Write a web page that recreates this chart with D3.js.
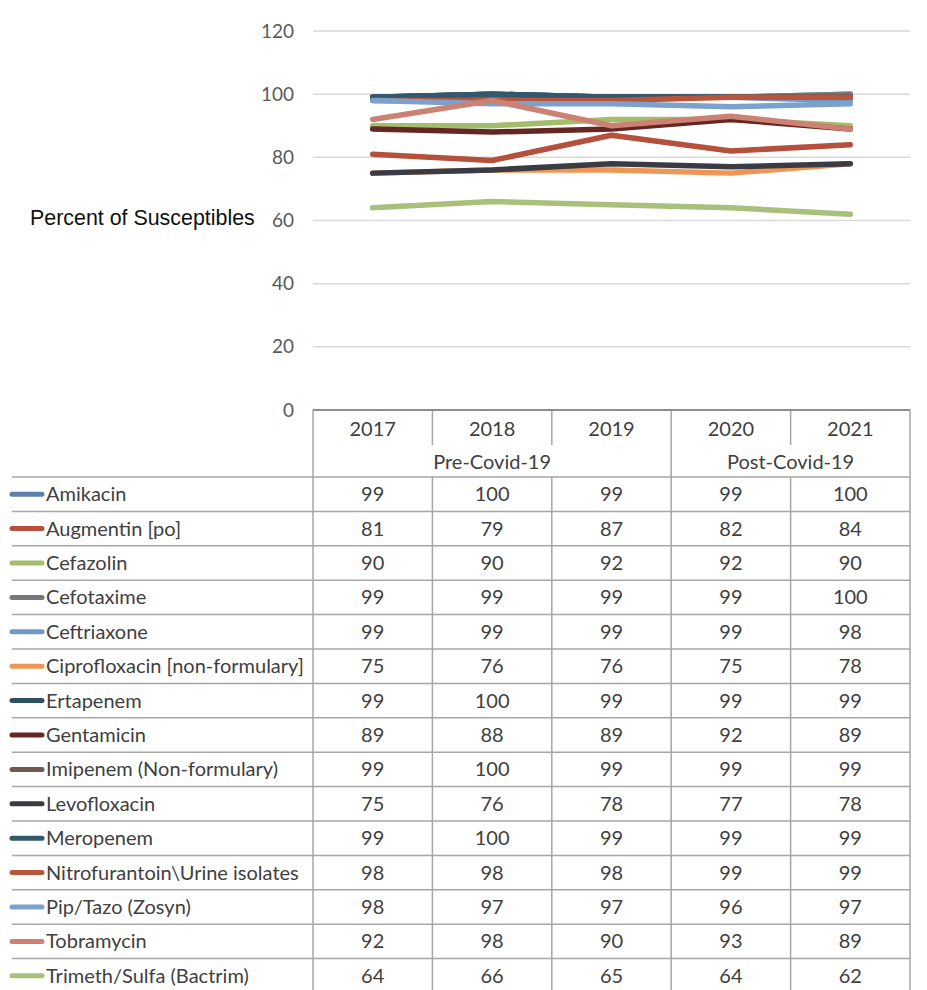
<!DOCTYPE html>
<html><head><meta charset="utf-8">
<script src="https://cdn.jsdelivr.net/npm/d3@7"></script>
<style>body{margin:0;background:#fff}svg{display:block}</style>
</head><body>
<svg id="c" width="927" height="990"></svg>
<script>
const years = ["2017","2018","2019","2020","2021"];
const groups = [{label:"Pre-Covid-19", from:0, to:2},{label:"Post-Covid-19", from:3, to:4}];
const yTicks = [0,20,40,60,80,100,120];
const drugs = ["Amikacin","Augmentin [po]","Cefazolin","Cefotaxime","Ceftriaxone","Ciprofloxacin [non-formulary]","Ertapenem","Gentamicin","Imipenem (Non-formulary)","Levofloxacin","Meropenem","Nitrofurantoin\\Urine isolates","Pip/Tazo (Zosyn)","Tobramycin","Trimeth/Sulfa (Bactrim)"];
const colors = ["#5b80ab","#b5503c","#a3bd6c","#777777","#7199c7","#ee9655","#2e4f62","#652724","#6e5a50","#3b3b43","#31586f","#b9553b","#7ba1cc","#cc8173","#a9c07c"];
const amikacin = [99,100,99,99,100];
const augmentin = [81,79,87,82,84];
const cefazolin = [90,90,92,92,90];
const cefotaxime = [99,99,99,99,100];
const ceftriaxone = [99,99,99,99,98];
const ciprofloxacin = [75,76,76,75,78];
const ertapenem = [99,100,99,99,99];
const gentamicin = [89,88,89,92,89];
const imipenem = [99,100,99,99,99];
const levofloxacin = [75,76,78,77,78];
const meropenem = [99,100,99,99,99];
const nitrofurantoin = [98,98,98,99,99];
const piptazo = [98,97,97,96,97];
const tobramycin = [92,98,90,93,89];
const trimeth = [64,66,65,64,62];
const values = [amikacin,augmentin,cefazolin,cefotaxime,ceftriaxone,ciprofloxacin,ertapenem,gentamicin,imipenem,levofloxacin,meropenem,nitrofurantoin,piptazo,tobramycin,trimeth];

(function(){
const svg = d3.select("#c");
const pLeft = 313, pRight = 910, pTop = 31, pBottom = 410;
const tableLeft = 12;
const x = d3.scaleBand().domain(years).range([pLeft,pRight]);
const y = d3.scaleLinear().domain([0,120]).range([pBottom,pTop]);
const font = "Lato, 'Open Sans', sans-serif";
const fs = 20;

svg.append("g").selectAll("line").data(yTicks.filter(d=>d>0)).join("line")
  .attr("x1",pLeft).attr("x2",pRight).attr("y1",d=>y(d)).attr("y2",d=>y(d))
  .attr("stroke","#d9d9d9").attr("stroke-width",1.5);

const yAxis = d3.axisLeft(y).tickValues(yTicks).tickSize(0).tickPadding(19);
const ya = svg.append("g").attr("transform",`translate(${pLeft},0)`).call(yAxis);
ya.select(".domain").remove();
ya.selectAll("text").attr("font-family",font).attr("font-size",19).attr("fill","#595959");

svg.append("text").attr("x",30).attr("y",225).text("Percent of Susceptibles")
  .attr("font-family","'Liberation Sans', Arial, sans-serif").attr("font-size",21.4).attr("fill","#111");

const line = d3.line().x((d,i)=>x(years[i])+x.bandwidth()/2).y(d=>y(d));
svg.append("g").selectAll("path").data(values).join("path")
  .attr("d",line).attr("fill","none").attr("stroke",(d,i)=>colors[i])
  .attr("stroke-width",5.5).attr("stroke-linejoin","round").attr("stroke-linecap","round");

const hdr1 = 445, hdr2 = 477, rowH = 34.4;
const tg = svg.append("g");
const lineColor = "#a6a6a6";
const rowYs = drugs.map((d,i)=>hdr2 + i*rowH);
tg.selectAll(".rl").data(rowYs).join("line")
  .attr("x1",tableLeft).attr("x2",pRight).attr("y1",d=>d).attr("y2",d=>d)
  .attr("stroke",lineColor).attr("stroke-width",1.5);
const tableBottom = 995;
tg.append("line").attr("x1",pLeft).attr("x2",pLeft).attr("y1",pBottom).attr("y2",tableBottom).attr("stroke",lineColor).attr("stroke-width",1.5);
tg.append("line").attr("x1",pRight).attr("x2",pRight).attr("y1",pBottom).attr("y2",tableBottom).attr("stroke",lineColor).attr("stroke-width",1.5);
years.slice(1).forEach((yr,i)=>{
  const xx = x(yr);
  const isGroup = groups.some(g=>g.from===i+1);
  tg.append("line").attr("x1",xx).attr("x2",xx)
    .attr("y1",pBottom).attr("y2",isGroup?tableBottom:hdr1)
    .attr("stroke",lineColor).attr("stroke-width",1.5);
  if(!isGroup){
    tg.append("line").attr("x1",xx).attr("x2",xx)
      .attr("y1",hdr2).attr("y2",tableBottom)
      .attr("stroke",lineColor).attr("stroke-width",1.5);
  }
});
svg.append("line").attr("x1",pLeft).attr("x2",pRight).attr("y1",pBottom).attr("y2",pBottom)
  .attr("stroke","#8c8c8c").attr("stroke-width",2);

tg.selectAll(".yr").data(years).join("text")
  .attr("x",d=>x(d)+x.bandwidth()/2).attr("y",436).attr("text-anchor","middle")
  .attr("font-family",font).attr("font-size",fs).attr("fill","#404040").text(d=>d);
tg.selectAll(".gp").data(groups).join("text")
  .attr("x",d=>(x(years[d.from])+x(years[d.to])+x.bandwidth())/2).attr("y",469).attr("text-anchor","middle")
  .attr("font-family",font).attr("font-size",fs).attr("fill","#404040").text(d=>d.label);

drugs.forEach((dname,i)=>{
  const cy = hdr2 + i*rowH + rowH/2;
  tg.append("line").attr("x1",tableLeft).attr("x2",42).attr("y1",cy).attr("y2",cy)
    .attr("stroke",colors[i]).attr("stroke-width",5).attr("stroke-linecap","round");
  tg.append("text").attr("x",46).attr("y",cy+7).text(dname)
    .attr("font-family",font).attr("font-size",fs).attr("fill","#404040");
  values[i].forEach((v,j)=>{
    tg.append("text").attr("x",x(years[j])+x.bandwidth()/2).attr("y",cy+7).attr("text-anchor","middle")
      .attr("font-family",font).attr("font-size",fs).attr("fill","#404040").text(v);
  });
});
})();
</script>
</body></html>
